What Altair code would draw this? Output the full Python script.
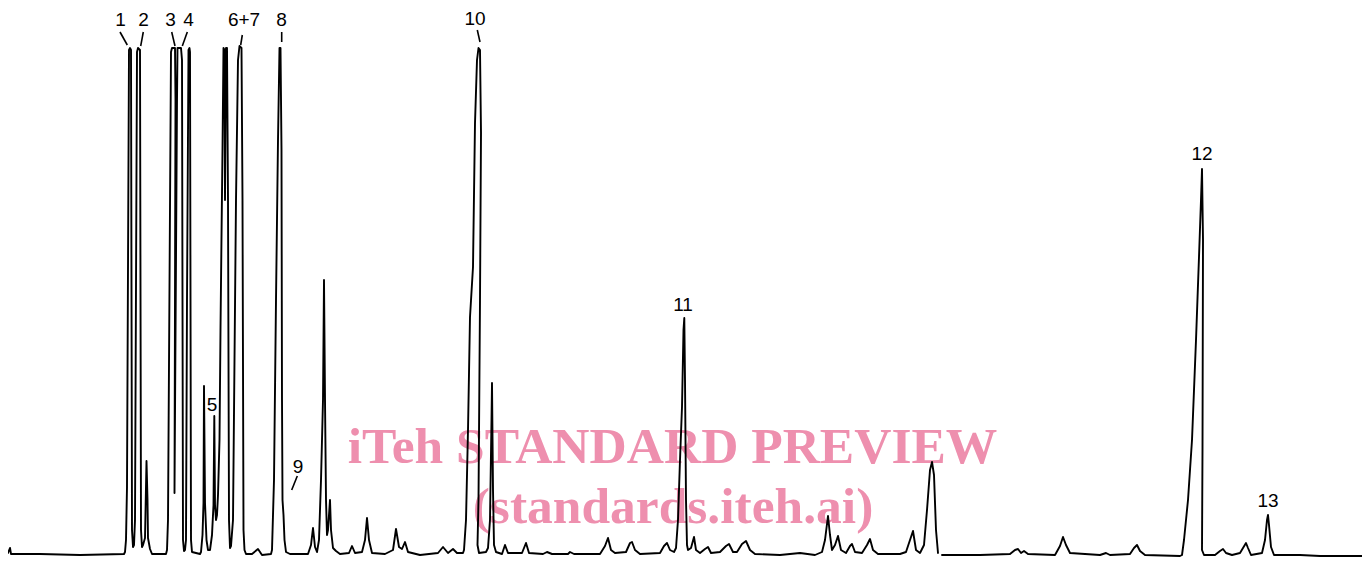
import altair as alt
import pandas as pd

# Chromatogram trace: retention (arbitrary units) and detector response.
# First pen stroke (up to the small gap in the record near t = 940)
time_a = [
    8, 10, 11, 40, 80, 124,
    125, 126, 127, 129, 130, 131, 132, 133,
    134, 135, 137, 138, 140, 141, 142,
    143, 145, 146.5, 147.5, 148, 150, 152,
    166,
    167, 168, 171, 172, 175, 175.5, 174.5, 177, 177.5, 181, 182, 183, 184, 185,
    186, 187, 188.5, 189.5, 190, 191, 192,
    200,
    201, 202.5, 203.5, 204, 205, 206.5, 208,
    210, 212, 213.5, 214.3, 215, 216, 217, 218, 219.5, 220.5, 221.5, 222.5, 223.5, 224.5, 225, 226, 227, 228, 229, 230, 231,
    233, 236, 238, 239.5, 241.5, 242.5, 243.5, 244.5, 246,
    252, 258, 262, 271,
    272, 274, 276, 278, 279.5, 280.5, 281.5, 282, 282.5, 283.5, 284.5, 286, 290,
    308, 311, 313, 315, 317, 319, 321, 323, 324, 325, 326, 327, 328, 330, 331, 333, 336, 340,
    349, 352, 355, 362, 365, 367, 369, 372, 385, 393, 396, 399, 402, 405, 408, 420, 438, 443, 448, 453, 457, 463,
    464, 466, 468, 470, 473, 475, 477, 478.5, 480, 481, 480, 478.5, 477.5, 479, 486,
    488, 490, 491.5, 492, 493, 494, 496,
    502, 505, 508, 522, 526, 529, 543, 547, 552, 568, 570, 574, 600, 605, 608, 611, 615, 626, 630, 632, 635, 640, 660, 664, 667, 670, 674,
    676, 678, 680, 682, 683.5, 684.3, 685, 686, 687, 688, 691, 694, 696, 700, 705, 708, 711, 720, 726, 729, 733, 737, 742, 746, 750, 755, 780, 800, 815,
    822, 825, 828, 830, 832, 835, 838, 841, 846, 850, 852, 855, 862, 867, 870, 873, 878, 900, 906, 910, 913, 916, 920, 924, 927, 930, 932, 934, 936, 938,
]
response_a = [
    2, 7, 1, 1, 0, 1,
    3, 15, 68, 505, 507, 505, 25, 8,
    10, 35, 503, 507, 505, 25, 8,
    10, 17, 94, 55, 17, 6, 1,
    1,
    5, 35, 503, 507, 507, 455, 62, 455, 507, 507, 495, 15, 4, 5,
    15, 255, 505, 507, 503, 15, 3,
    1,
    3, 20, 52, 169, 52, 15, 5,
    5, 20, 50, 139, 50, 35, 40, 60, 115, 225, 318, 405, 507, 505, 355, 507, 507, 355, 35, 7, 9,
    35, 355, 495, 509, 507, 355, 25, 5, 1,
    1, 6, 0, 1,
    5, 75, 255, 415, 507, 507, 405, 155, 55, 40, 15, 3, 1,
    1, 10, 27, 8, 3, 15, 75, 155, 275, 155, 55, 20, 25, 55, 25, 7, 4, 1,
    2, 9, 2, 3, 15, 37, 15, 2, 1, 5, 26, 8, 6, 13, 3, 0, 2, 8, 2, 6, 2, 2,
    5, 35, 125, 238, 288, 432, 495, 507, 505, 422, 255, 55, 10, 2, 3,
    7, 35, 135, 172, 65, 10, 3,
    1, 10, 2, 2, 12, 2, 1, 3, 1, 1, 3, 1, 1, 9, 17, 5, 2, 3, 12, 13, 5, 1, 2, 9, 12, 5, 3,
    7, 35, 95, 148, 225, 237, 175, 55, 10, 5, 7, 18, 5, 2, 6, 8, 2, 3, 9, 11, 3, 3, 11, 14, 5, 1, 0, 2, 0,
    3, 15, 39, 20, 5, 10, 19, 5, 2, 9, 11, 3, 2, 10, 16, 5, 1, 1, 3, 15, 24, 5, 2, 10, 45, 85, 93, 80, 25, 2,
]
# Second pen stroke
time_b = [
    942, 980, 1010, 1015, 1018, 1021, 1024, 1028, 1055, 1060, 1063, 1066, 1070, 1100, 1106, 1110, 1130, 1134, 1137, 1140, 1145, 1180,
    1182, 1184, 1188, 1192, 1196, 1199, 1201, 1202, 1203, 1202.5, 1202, 1204, 1215, 1220, 1223, 1226, 1232, 1240, 1243, 1246, 1248, 1251,
    1262, 1265, 1267, 1268, 1269, 1271, 1274, 1300, 1320, 1362,
]
response_b = [
    0, 0, 1, 5, 6, 2, 4, 1, 0, 9, 18, 10, 2, 0, 2, 0, 1, 7, 10, 4, 0, -1,
    0, 15, 55, 115, 215, 298, 355, 386, 315, 105, 5, 0, 0, 4, 6, 2, 0, 2, 7, 12, 7, 0,
    2, 15, 35, 40, 30, 8, 0, 0, -1, -1,
]

# Peak labels
label_text = ["1", "2", "3", "4", "6+7", "8", "10", "11", "12", "13", "5", "9"]
label_time = [120.5, 143.5, 170.5, 188.5, 244, 281.5, 475, 683, 1202, 1268, 212, 298]
label_resp = [535, 535, 535, 535, 535, 535, 536, 250, 401, 54, 150, 88]

# Leader lines from labels to peaks
lead_t1 = [120, 143.3, 171.7, 187.3, 242.3, 281.7, 477.3, 297.3]
lead_r1 = [523, 523, 523, 523, 520, 523, 525, 79]
lead_t2 = [127.3, 140.7, 175, 182.3, 240.7, 281.7, 480, 291.7]
lead_r2 = [510, 509, 509, 509, 510, 513, 513, 65]

# Watermark
wm_text = ["iTeh STANDARD PREVIEW", "(standards.iteh.ai)"]
wm_time = [672.5, 673]
wm_resp = [92, 32]

trace = pd.DataFrame({
    "t": time_a + time_b,
    "r": response_a + response_b,
    "i": list(range(len(time_a) + len(time_b))),
    "s": ["a"] * len(time_a) + ["b"] * len(time_b),
})
labels = pd.DataFrame({"t": label_time, "r": label_resp, "txt": label_text})
leaders = pd.DataFrame({"t1": lead_t1, "r1": lead_r1, "t2": lead_t2, "r2": lead_r2})
wm = pd.DataFrame({"t": wm_time, "r": wm_resp, "txt": wm_text})

xs = alt.Scale(domain=[8, 1362], nice=False, zero=False)
ys = alt.Scale(domain=[-3, 547], nice=False, zero=False)

watermark = alt.Chart(wm).mark_text(
    font="Liberation Serif", fontWeight="bold", fontSize=51.5, color="#EE8FAE",
    align="center", baseline="alphabetic",
).encode(
    x=alt.X("t:Q", scale=xs, axis=None),
    y=alt.Y("r:Q", scale=ys, axis=None),
    text="txt:N",
)

line = alt.Chart(trace).mark_line(
    color="black", strokeWidth=1.9, strokeJoin="round", strokeCap="round",
).encode(
    x=alt.X("t:Q", scale=xs, axis=None),
    y=alt.Y("r:Q", scale=ys, axis=None),
    order="i:Q",
    detail="s:N",
)

lead = alt.Chart(leaders).mark_rule(color="black", strokeWidth=1.6).encode(
    x=alt.X("t1:Q", scale=xs, axis=None),
    y=alt.Y("r1:Q", scale=ys, axis=None),
    x2="t2:Q",
    y2="r2:Q",
)

text = alt.Chart(labels).mark_text(
    font="Liberation Sans", fontSize=19, color="black", align="center", baseline="middle",
).encode(
    x=alt.X("t:Q", scale=xs, axis=None),
    y=alt.Y("r:Q", scale=ys, axis=None),
    text="txt:N",
)

chart = alt.layer(watermark, line, lead, text).properties(
    width=1354, height=550, autosize="none", padding=0, background="white"
).configure_view(stroke=None)

chart.save("out.html", embed_options={"renderer": "svg", "actions": False})
